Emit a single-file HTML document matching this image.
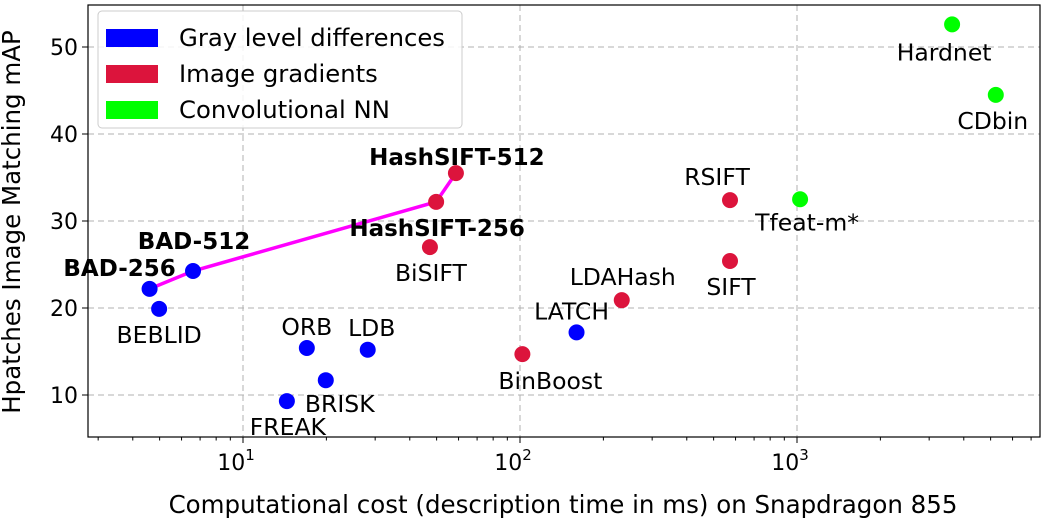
<!DOCTYPE html>
<html><head><meta charset="utf-8"><style>
body{margin:0;background:#fff;}
svg text{font-family:"DejaVu Sans","Liberation Sans",sans-serif;}
</style></head><body>
<svg id="chart" width="1044" height="521" xmlns="http://www.w3.org/2000/svg"></svg>
<script>
const names=["BAD-256","BAD-512","BEBLID","ORB","LDB","BRISK","FREAK","LATCH","BinBoost","LDAHash","BiSIFT","HashSIFT-256","HashSIFT-512","RSIFT","SIFT","Tfeat-m*","Hardnet","CDbin"];
const costs=[4.6,6.6,4.98,17.0,28.2,19.9,14.4,160,102,233,47.3,49.8,58.7,573,573,1026,3630,5220];
const maps=[22.2,24.25,19.9,15.4,15.2,11.7,9.3,17.2,14.7,20.9,27.0,32.2,35.5,32.4,25.4,32.5,52.6,44.5];
const groups=[0,0,0,0,0,0,0,0,1,1,1,1,1,1,1,2,2,2];
const groupNames=["Gray level differences","Image gradients","Convolutional NN"];
const groupColors=["#0000ff","#dc143c","#00ff00"];
const yTicks=[10,20,30,40,50];
const xTicks=[1,2,3];
const lineA=[0,1];const lineB=[11,12];
const lab={"BAD-256":[-30,-13,1],"BAD-512":[1,-22,1],"BEBLID":[0,34,0],"ORB":[0,-13,0],"LDB":[4,-14,0],"BRISK":[14,32,0],"FREAK":[1,34,0],"LATCH":[-5,-13,0],"BinBoost":[28,35,0],"LDAHash":[1,-15,0],"BiSIFT":[1,34,0],"HashSIFT-256":[1,34,1],"HashSIFT-512":[1,-8,1],"RSIFT":[-13,-15,0],"SIFT":[1,34,0],"Tfeat-m*":[7,31,0],"Hardnet":[-8,36,0],"CDbin":[-3,34,0]};
const L=88,R=1040,T=5,B=437;
const xs=v=>243+(Math.log10(v)-1)*277;
const ys=v=>395-(v-10)*8.7;
const svg=document.getElementById('chart');
const NS="http://www.w3.org/2000/svg";
function mk(t,a,p){const e=document.createElementNS(NS,t);for(const k in a)e.setAttribute(k,a[k]);(p||svg).appendChild(e);return e;}
yTicks.forEach(v=>{const g=mk('line',{x1:L,x2:R,y1:ys(v),y2:ys(v),stroke:"#b0b0b0","stroke-dasharray":"6,4","stroke-width":1});

mk('line',{x1:L-6,x2:L,y1:ys(v),y2:ys(v),stroke:"#000"});
const t=mk('text',{x:L-10,y:ys(v)+8,"text-anchor":"end","font-size":22});t.textContent=v;
});
xTicks.forEach(p=>{const x=xs(Math.pow(10,p));
const g=mk('line',{x1:x,x2:x,y1:T,y2:B,stroke:"#b0b0b0","stroke-dasharray":"6,4"});

mk('line',{x1:x,x2:x,y1:B,y2:B+6,stroke:"#000"});
const t=mk('text',{x:x-7,y:B+33,"text-anchor":"middle","font-size":22});t.textContent="10";
mk('tspan',{dy:-10,"font-size":15},t).textContent=p;
});
for(let p=0;p<4;p++)for(let m=2;m<10;m++){const v=m*Math.pow(10,p);const x=xs(v);if(x>L&&x<R)mk('line',{x1:x,x2:x,y1:B,y2:B+3.5,stroke:"#000"});}
const frame=mk('rect',{x:L,y:T,width:R-L,height:B-T,fill:"none",stroke:"#000","stroke-width":1.2});

const pl=mk('polyline',{points:[lineA[0],lineA[1],lineB[0],lineB[1]].map(i=>xs(costs[i])+","+ys(maps[i])).join(" "),fill:"none",stroke:"#ff00ff","stroke-width":3.5});

names.forEach((n,i)=>{const x=xs(costs[i]),y=ys(maps[i]);
const c=mk('circle',{cx:x,cy:y,r:8,fill:groupColors[groups[i]]});

const o=lab[n];const t=mk('text',{x:x+o[0],y:y+o[1],"text-anchor":"middle","font-size":o[2]?23:23.5,"font-weight":o[2]?"bold":"normal"});t.textContent=n;
});
const xt=mk('text',{x:563,y:513,"text-anchor":"middle","font-size":24.5});xt.textContent="Computational cost (description time in ms) on Snapdragon 855";

const yt=mk('text',{x:0,y:0,"text-anchor":"middle","font-size":24.5,transform:"translate(20,222) rotate(-90)"});yt.textContent="Hpatches Image Matching mAP";

const lg=mk('rect',{x:98,y:11,width:364,height:117,rx:4,fill:"#fff","fill-opacity":0.85,stroke:"#ccc"});

groupNames.forEach((g,i)=>{const y=37+i*36;
const s=mk('rect',{x:106,y:y-8,width:52,height:18,fill:groupColors[i]});

const t=mk('text',{x:179,y:y+9,"font-size":24.3});t.textContent=g;
});
</script>
</body></html>
